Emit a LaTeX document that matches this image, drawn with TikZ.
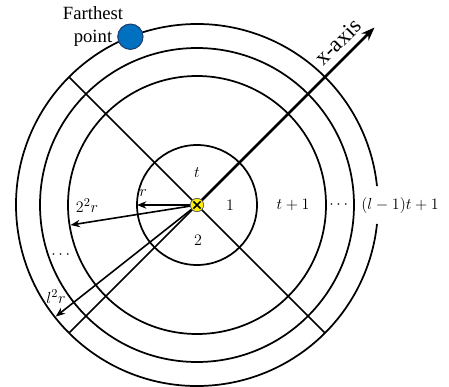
\documentclass[tikz,border=0pt]{standalone}
\usepackage{fontspec}
\setmainfont{Liberation Serif}
\usepackage{amsmath}
\usetikzlibrary{arrows.meta, positioning, calc}
\definecolor{DotBlue}{HTML}{0070C0}
\definecolor{DotEdge}{HTML}{1F3F6F}
\definecolor{CenterYellow}{HTML}{FFF200}

\begin{document}
\begin{tikzpicture}[
    x=0.75pt, y=0.75pt,
    ring/.style={line width=1.3pt},
    radarrow/.style={-{Stealth[length=7pt, width=5.5pt]}, line width=1.2pt},
    mlabel/.style={font=\fontsize{12.5}{15}\selectfont, inner sep=1pt}
  ]
    \useasboundingbox (-197,-181) rectangle (252,205);

    % rings
    \draw[ring] (0,0) circle[radius=60];
    \draw[ring] (0,0) circle[radius=129];
    \draw[ring] (0,0) circle[radius=157];
    \draw[ring] (6:181) arc[start angle=6, end angle=354, radius=181];

    % diagonals
    \coordinate (O) at (0,0);
    \coordinate (nw) at (135:181);
    \coordinate (se) at (315:181);
    \coordinate (sw) at (225:181);
    \coordinate (axtip) at (45:251);
    \draw[ring] (nw) -- (se);
    \draw[ring] (O) -- (sw);
    \draw[-{Stealth[length=10pt, width=7.5pt]}, line width=2pt] (O) -- (axtip);
    \node[rotate=45, font=\fontsize{17}{20}\selectfont, inner sep=0pt] (xlab) at (141,163) {x-axis};

    % radius arrows
    \coordinate (r1) at (180:60);
    \coordinate (r2) at (189:128);
    \coordinate (r4) at (218.3:180);
    \draw[radarrow] (O) -- (r1);
    \draw[radarrow] (O) -- (r2);
    \draw[radarrow] (O) -- (r4);

    % centre and farthest point
    \node[circle, fill=CenterYellow, draw=black!60, line width=0.6pt, minimum size=10pt, inner sep=0pt] (ctr) at (O) {};
    \draw[line width=1.1pt] ($(ctr)+(135:5)$) -- ($(ctr)+(315:5)$);
    \draw[line width=1.1pt] ($(ctr)+(45:5)$) -- ($(ctr)+(225:5)$);
    \node[circle, fill=DotBlue, draw=DotEdge, line width=0.8pt, minimum size=19pt, inner sep=0pt] (far) at (111.6:181) {};
    \node[align=center, font=\fontsize{14}{17}\selectfont, inner sep=0pt] (farlab) at (-104,178.5) {Farthest\\point};

    % sector and ring labels
    \node[mlabel] (lt) at (0,32) {$t$};
    \node[mlabel] (l1) at (33,0) {$1$};
    \node[mlabel] (l2) at (1,-35) {$2$};
    \node[mlabel] (ltp) at (96,0) {$t+1$};
    \node[mlabel] (ldots) at (143,0) {$\cdots$};
    \node[mlabel] (llast) at (203,0) {$(l-1)t+1$};

    % radius labels
    \node[mlabel] (lr) at (-54,12) {$r$};
    \node[mlabel] (lr2) at (-110,-1) {$2^2r$};
    \node[mlabel] (ldots2) at (-135,-50) {$\cdots$};
    \node[mlabel] (lrl) at (-141,-92) {$l^2r$};
  \end{tikzpicture}
\end{document}
